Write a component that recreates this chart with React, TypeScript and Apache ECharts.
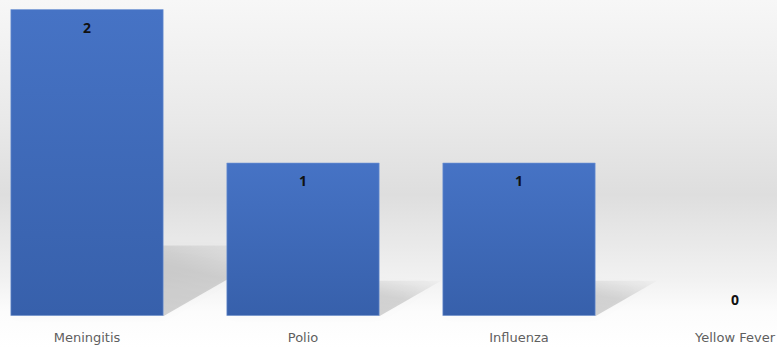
import React, { useEffect, useRef } from "react";
import * as echarts from "echarts";

const categories = ["Meningitis", "Polio", "Influenza", "Yellow Fever"];
const cases = [2, 1, 1, 0];

// floor shadow proportions relative to bar height
const SHADOW_RISE = 0.23;
const SHADOW_RUN = 0.4;
const BAR_FRACTION = 0.71;

export default function App() {
  const ref = useRef<HTMLDivElement>(null);

  useEffect(() => {
    if (!ref.current) return;
    const chart = echarts.init(ref.current, undefined, { renderer: "svg" });

    const shadowItem = (params: any, api: any) => {
      const v = api.value(1);
      const i = api.value(0);
      const top = api.coord([i, v]);
      const base = api.coord([i, 0]);
      const band = api.size([1, 0])[0];
      const h = base[1] - top[1];
      if (h <= 0) return null;
      const w = band * BAR_FRACTION;
      const xL = top[0] - w / 2;
      const xR = top[0] + w / 2;
      const dx = h * SHADOW_RUN;
      const dy = h * SHADOW_RISE;
      return {
        type: "polygon",
        shape: {
          points: [
            [xL, base[1]],
            [xR, base[1]],
            [xR + dx, base[1] - dy],
            [xL + dx, base[1] - dy],
          ],
        },
        style: {
          fill: new echarts.graphic.LinearGradient(0, 1, 1, 0, [
            { offset: 0, color: "rgba(0,0,0,0.19)" },
            { offset: 0.65, color: "rgba(0,0,0,0.14)" },
            { offset: 1, color: "rgba(0,0,0,0.01)" },
          ]),
          shadowBlur: 10,
          shadowColor: "rgba(0,0,0,0.1)",
        },
      };
    };

    chart.setOption({
      animation: false,
      backgroundColor: new echarts.graphic.LinearGradient(0, 0, 0, 1, [
        { offset: 0, color: "#f7f7f7" },
        { offset: 0.35, color: "#e9e9e9" },
        { offset: 0.56, color: "#dedede" },
        { offset: 0.8, color: "#f1f1f1" },
        { offset: 0.9, color: "#fcfcfc" },
        { offset: 1, color: "#ffffff" },
      ]),
      grid: { left: 0, right: 0, top: 9, bottom: 31, containLabel: false },
      xAxis: {
        type: "category",
        data: categories,
        axisLine: { show: false },
        axisTick: { show: false },
        axisLabel: {
          color: "#5f5f5f",
          fontSize: 13,
          fontFamily: "DejaVu Sans",
          margin: 15,
          interval: 0,
        },
      },
      yAxis: {
        type: "value",
        min: 0,
        max: 2,
        show: false,
        splitLine: { show: false },
      },
      series: [
        {
          type: "custom",
          renderItem: shadowItem,
          data: cases.map((v, i) => [i, v]),
          z: 1,
          silent: true,
        },
        {
          type: "bar",
          z: 2,
          barCategoryGap: "29%",
          data: cases.map((v) =>
            v === 0
              ? {
                  value: v,
                  itemStyle: { borderWidth: 0 },
                  label: { position: "top", distance: 10 },
                }
              : v
          ),
          itemStyle: {
            color: new echarts.graphic.LinearGradient(0, 0, 0, 1, [
              { offset: 0, color: "#4673c5" },
              { offset: 1, color: "#3760ab" },
            ]),
            borderColor: "rgba(120,155,215,0.6)",
            borderWidth: 1,
          },
          label: {
            show: true,
            position: "insideTop",
            distance: 11,
            color: "#111111",
            fontSize: 14,
            fontWeight: "bold",
            fontFamily: "Open Sans",
          },
        },
      ],
    });

    return () => chart.dispose();
  }, []);

  return (
    <div
      style={{
        position: "absolute",
        left: 0,
        top: 0,
        width: 777,
        height: 347,
        overflow: "hidden",
      }}
    >
      <div
        ref={ref}
        style={{ position: "absolute", left: -21, top: 0, width: 864, height: 347 }}
      />
    </div>
  );
}
